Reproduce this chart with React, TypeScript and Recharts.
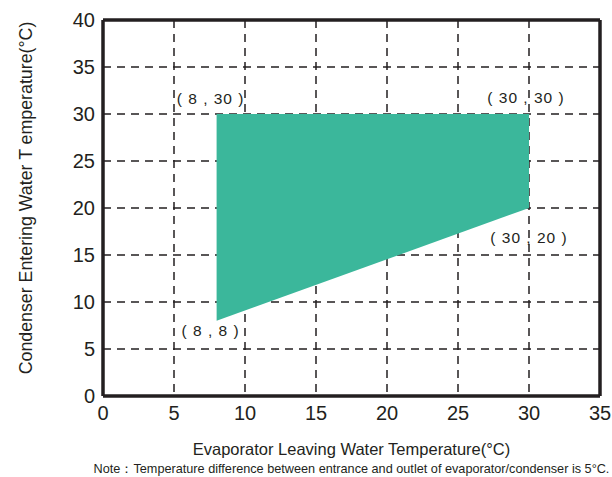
import React from 'react';
import { ComposedChart, Area, XAxis, YAxis, CartesianGrid, ReferenceLine, ReferenceDot, Label } from 'recharts';

// operating envelope: evaporator leaving temp vs condenser entering temp range
const evapLeaving = [8, 30];
const condLow = [8, 20];
const condHigh = [30, 30];

const xTicks = [0, 5, 10, 15, 20, 25, 30, 35];
const yTicks = [0, 5, 10, 15, 20, 25, 30, 35, 40];

const cornerLabels = [
  { x: 8, y: 30, text: '( 8 , 30 )', position: 'top', offset: 10, dx: -6 },
  { x: 30, y: 30, text: '( 30 , 30 )', position: 'top', offset: 11, dx: -3 },
  { x: 30, y: 20, text: '( 30 , 20 )', position: 'bottom', offset: 24, dx: 0 },
  { x: 8, y: 8, text: '( 8 , 8 )', position: 'bottom', offset: 4, dx: -6 },
];

const data = evapLeaving.map((x, i) => ({ x, range: [condLow[i], condHigh[i]] }));

const INK = '#231f20';
const FONT = '"Liberation Sans", Arial, sans-serif';

const YTitle = () => (
  <text
    x={26}
    y={198}
    transform="rotate(-90 26 198)"
    textAnchor="middle"
    dominantBaseline="central"
    fontSize={17.8}
    fill={INK}
    fontFamily={FONT}
  >
    Condenser Entering Water T emperature(°C)
  </text>
);

export default function App() {
  return (
    <div style={{ position: 'absolute', left: 0, top: 0, background: '#fff' }}>
      <ComposedChart
        width={612}
        height={477}
        data={data}
        margin={{ top: 20, right: 12, bottom: 0, left: 0 }}
        style={{ fontFamily: FONT }}
      >
        <CartesianGrid stroke={INK} strokeWidth={1.5} strokeDasharray="8 6" />
        <Area
          type="linear"
          dataKey="range"
          fill="#3bb79b"
          fillOpacity={1}
          stroke="none"
          isAnimationActive={false}
          dot={false}
          activeDot={false}
        />
        <XAxis
          dataKey="x"
          type="number"
          domain={[0, 35]}
          ticks={xTicks}
          height={81}
          tickLine={false}
          tickSize={0}
          tickMargin={10}
          axisLine={{ stroke: INK, strokeWidth: 3.5 }}
          tick={{ fontSize: 20, fill: INK }}
        >
          <Label
            value="Evaporator Leaving Water Temperature(°C)"
            position="insideBottom"
            offset={22}
            fontSize={16.5}
            fill={INK}
          />
          <Label
            value="Note：Temperature difference between entrance and outlet of evaporator/condenser is 5°C."
            position="insideBottom"
            offset={4}
            fontSize={12.7}
            fill={INK}
          />
        </XAxis>
        <YAxis
          type="number"
          domain={[0, 40]}
          ticks={yTicks}
          width={103}
          tickLine={false}
          tickSize={0}
          tickMargin={8}
          axisLine={{ stroke: INK, strokeWidth: 3.5 }}
          tick={{ fontSize: 20, fill: INK }}
          label={<YTitle />}
        />
        <ReferenceLine y={40} stroke={INK} strokeWidth={3.5} />
        <ReferenceLine x={35} stroke={INK} strokeWidth={3.5} />
        {cornerLabels.map((c) => (
          <ReferenceDot
            key={c.text}
            x={c.x}
            y={c.y}
            r={0}
            stroke="none"
            fill="none"
            label={{
              value: c.text,
              position: c.position as any,
              offset: c.offset,
              dx: c.dx,
              fontSize: 15.5,
              fill: INK,
              letterSpacing: 1,
            }}
          />
        ))}
      </ComposedChart>
    </div>
  );
}
